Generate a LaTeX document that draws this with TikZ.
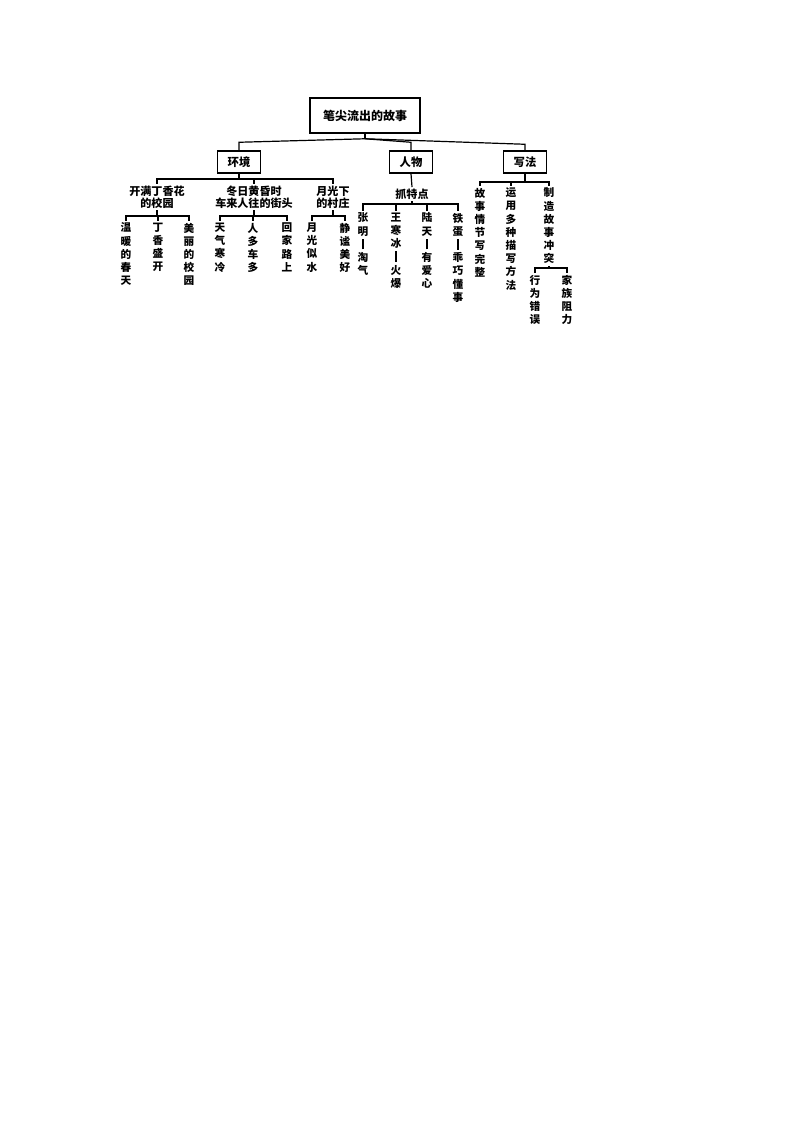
\documentclass[tikz,border=0pt]{standalone}
\usepackage{fontspec}
\newfontfamily\cjk{Noto Sans CJK SC}
\newcommand\shu{\rule[-0.1em]{1pt}{1em}}

\begin{document}
\begin{tikzpicture}[x=0.75pt,y=-0.75pt,line width=0.9pt,
        hd/.style={rectangle,draw=black,line width=1.4pt,minimum width=82pt,minimum height=26pt,font=\cjk\bfseries\fontsize{9}{10}\selectfont},
        bx/.style={rectangle,draw=black,line width=1.1pt,minimum width=32pt,minimum height=16.5pt,font=\cjk\bfseries\fontsize{8.5}{10}\selectfont},
        lb/.style={anchor=north,align=center,inner sep=1pt,font=\cjk\bfseries\fontsize{8.3}{9}\selectfont},
        lf/.style={anchor=north,align=center,inner sep=1pt,font=\cjk\bfseries\fontsize{8}{9.9}\selectfont}]
        \useasboundingbox (0,0) rectangle (800,1132);
        \node[hd] (top) at (365,115.5) {笔尖流出的故事};
        \node[bx] (hj) at (239,162) {环境};
        \node[bx] (rw) at (411,162) {人物};
        \node[bx] (xf) at (525,162) {写法};
        \draw (top.south) -- ++(0,5) coordinate (t0);
        \draw (hj.north) -- ++(0,-8) -- (t0);
        \draw (rw.north) -- ++(0,-8) -- (t0);
        \draw (xf.north) -- ++(0,-6) -- (t0);
        % huanjing
        \node[lb] (kx) at (157,184) {开满丁香花\\的校园};
        \node[lb] (dr) at (254,184) {冬日黄昏时\\车来人往的街头};
        \node[lb] (yg) at (333,184) {月光下\\的村庄};
        \draw (hj.south) -- (hj.south |- 0,179) coordinate (h0);
        \foreach \n in {kx,dr,yg} \draw (h0) -| (\n.north);
        \node[lf] (k1) at (126,221) {温\\暖\\的\\春\\天};
        \node[lf] (k2) at (158,221) {丁\\香\\盛\\开};
        \node[lf] (k3) at (189,221) {美\\丽\\的\\校\\园};
        \draw (kx.south) -- (kx.south |- 0,216) coordinate (k0);
        \foreach \n in {k1,k2,k3} \draw (k0) -| (\n.north);
        \node[lf] (d1) at (220,221) {天\\气\\寒\\冷};
        \node[lf] (d2) at (253,221) {人\\多\\车\\多};
        \node[lf] (d3) at (287,221) {回\\家\\路\\上};
        \draw (dr.south) -- (dr.south |- 0,216) coordinate (d0);
        \foreach \n in {d1,d2,d3} \draw (d0) -| (\n.north);
        \node[lf] (y1) at (312,221) {月\\光\\似\\水};
        \node[lf] (y2) at (345,221) {静\\谧\\美\\好};
        \draw (yg.south) -- (yg.south |- 0,216) coordinate (y0);
        \foreach \n in {y1,y2} \draw (y0) -| (\n.north);
        % renwu
        \node[lb] (zt) at (412,187) {抓特点};
        \draw (rw.south) -- (zt.north);
        \draw (zt.south) -- (zt.south |- 0,204) coordinate (z0);
        \node[lf] (r1) at (363,211) {张\\明\\\shu\\淘\\气};
        \node[lf] (r2) at (396,211) {王\\寒\\冰\\\shu\\火\\爆};
        \node[lf] (r3) at (427,211) {陆\\天\\\shu\\有\\爱\\心};
        \node[lf] (r4) at (458,211) {铁\\蛋\\\shu\\乖\\巧\\懂\\事};
        \foreach \n in {r1,r2,r3,r4} \draw (z0) -| (\n.north);
        % xiefa
        \draw (xf.south) -- (xf.south |- 0,182) coordinate (x0);
        \node[lf] (w1) at (480,186) {故\\事\\情\\节\\写\\完\\整};
        \node[lf] (w2) at (511,186) {运\\用\\多\\种\\描\\写\\方\\法};
        \node[lf] (w3) at (549,186) {制\\造\\故\\事\\冲\\突};
        \foreach \n in {w1,w2,w3} \draw (x0) -| (\n.north);
        \draw (w3.south) -- (w3.south |- 0,268) coordinate (w0);
        \node[lf] (w4) at (535,273) {行\\为\\错\\误};
        \node[lf] (w5) at (567,273) {家\\族\\阻\\力};
        \foreach \n in {w4,w5} \draw (w0) -| (\n.north);
\end{tikzpicture}
\end{document}
